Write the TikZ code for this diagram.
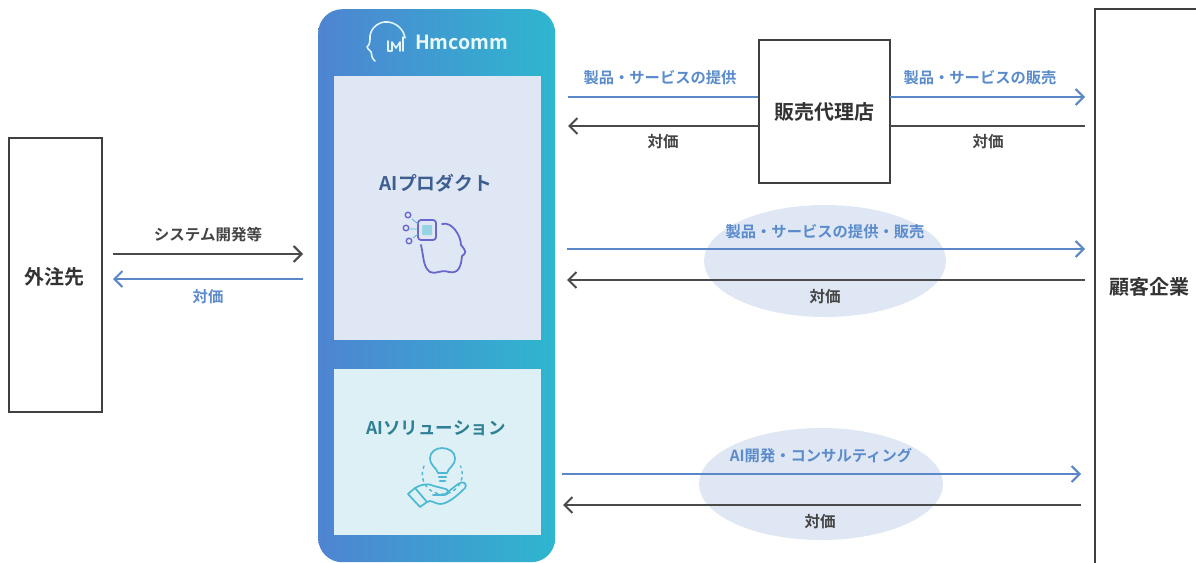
\documentclass[tikz,border=0pt]{standalone}
\usepackage{fontspec}
\setmainfont{Noto Sans CJK JP}[BoldFont={* Bold}]
\usetikzlibrary{arrows.meta,shadings,shapes.geometric}
\definecolor{arrblue}{HTML}{5B86C8}
\definecolor{arrdark}{HTML}{4A4A4A}
\definecolor{lblblue}{HTML}{5B8BCB}
\definecolor{lbldark}{HTML}{444444}
\definecolor{gradL}{HTML}{4F84D2}
\definecolor{gradR}{HTML}{2EB6CF}
\definecolor{prodfill}{HTML}{DFE7F5}
\definecolor{solfill}{HTML}{DCF0F5}
\definecolor{ellfill}{HTML}{DFE7F4}
\definecolor{prodtxt}{HTML}{3D5E8E}
\definecolor{soltxt}{HTML}{2F7F94}
\definecolor{iconv}{HTML}{6A66CC}
\definecolor{icont}{HTML}{4DB8D4}
\tikzset{
  x=1pt,y=-1pt,
  actor/.style={draw=black!75,line width=1.8pt,fill=white,minimum width=#1,inner sep=0pt},
  actortxt/.style={inner sep=0pt,font=\bfseries\fontsize{20}{20}\selectfont,text=black!80},
  inner box/.style={draw=none,inner sep=0pt},
  blob/.style={ellipse,fill=ellfill,draw=none,inner sep=0pt},
  flowb/.style={draw=arrblue,line width=2pt,-{Straight Barb[length=8pt,width=16pt,line width=2pt]}},
  flowd/.style={draw=arrdark,line width=2pt,-{Straight Barb[length=8pt,width=16pt,line width=2pt]}},
  lblb/.style={text=lblblue,font=\bfseries\fontsize{15.3}{15}\selectfont,inner sep=0pt},
  lbld/.style={text=lbldark,font=\bfseries\fontsize{15.5}{15}\selectfont,inner sep=0pt},
  head/.style={font=\bfseries\fontsize{#1}{18}\selectfont,inner sep=0pt},
  icon1/.style={draw=iconv,line width=1.8pt,line join=round,line cap=round},
  icon2/.style={draw=icont,line width=1.7pt,line join=round,line cap=round},
  logo/.style={draw=white!85!gradR,line width=1.6pt,line join=round,line cap=round},
}
\begin{document}
\begin{tikzpicture}
\useasboundingbox (0,0) rectangle (1196,562);
% main panel
\node[inner sep=0pt,minimum width=237pt,minimum height=553pt,rounded corners=24pt,left color=gradL,right color=gradR,anchor=north west] (main) at (318,9) {};
\node[inner box,fill=prodfill,minimum width=207pt,minimum height=264pt,anchor=north west] (prod) at (334,76) {};
\node[inner box,fill=solfill,minimum width=207pt,minimum height=166pt,anchor=north west] (sol) at (334,369) {};
\node[head=18.8,text=prodtxt] (prodt) at (436,183) {AIプロダクト};
\node[head=17.5,text=soltxt] (solt) at (436,428) {AIソリューション};
% logo
\node[text=white!90!gradR,font=\bfseries\fontsize{19.5}{18}\selectfont,inner sep=0pt,anchor=west] (logot) at (415,42) {Hmcomm};
\draw[logo] (375,61) .. controls (371,58) and (372,54) .. (371,52) .. controls (369,49) and (367,49) .. (367,47) .. controls (370,44) and (370,42) .. (370,36) .. controls (371,27) and (380,21) .. (388,22) .. controls (397,23) and (404,30) .. (405,38);
\draw[logo] (388,41) -- (388,51) -- (392,51) -- (392,42) -- (396,48) -- (400,42) -- (400,51) (403,37) -- (403,51);
% product icon
\draw[icon1] (442,224) .. controls (452,221) and (461,236) .. (461,245) .. controls (467,252) and (466,253) .. (462,256) .. controls (461,266) and (459,274) .. (449,272) .. controls (440,269) and (436,275) .. (430,272) .. controls (423,267) and (424,258) .. (421,245);
\draw[icon1,fill=prodfill,rounded corners=3pt] (418,220) rectangle (436,240);
\node[inner sep=0pt,minimum width=10pt,minimum height=10pt,fill=icont!60,rounded corners=1pt] (chip) at (427,230) {};
\draw[icon1,line width=1.4pt] (408,215) circle (2.8) (406,228) circle (2.8) (409,241) circle (2.8);
\draw[icont,line width=.8pt] (412,219) -- (418,224) (410,229) -- (418,229) (413,238) -- (418,234);
% solution icon
\draw[icon2] (438,473) .. controls (437,468) and (430,466) .. (430,458) .. controls (430,452) and (436,448) .. (442,448) .. controls (449,448) and (455,452) .. (455,458) .. controls (455,466) and (448,468) .. (447,473) -- cycle;
\draw[icon2,line width=2.4pt] (439,477) -- (446,477) (440,481) -- (445,481);
\draw[icon2,line width=1.4pt,dash pattern=on 2.5pt off 4pt] (424,466) arc[start angle=204,end angle=-24,radius=20];
\draw[icon2] (415,488) .. controls (422,484) and (428,483) .. (434,486) -- (446,489) .. controls (450,491) and (448,495) .. (444,495) -- (433,495) (444,495) -- (458,484) .. controls (463,480) and (468,484) .. (465,488) .. controls (456,497) and (447,504) .. (440,504) .. controls (435,504) and (431,499) .. (427,502);
\draw[icon2] (415,488) -- (408,494) -- (420,507) -- (427,502) -- cycle;
% actors
\node[actor=93pt,minimum height=274pt,anchor=north west] (out) at (8,137) {};
\node[actortxt] (outt) at (54,277) {外注先};
\node[actor=131pt,minimum height=143pt,anchor=north west] (dealer) at (758,39) {};
\node[actortxt] (dealert) at (824,112) {販売代理店};
\draw[black!75,line width=1.8pt] (1095,563) coordinate (custb) -- (1095,9) -- (1197,9);
\node[actortxt] (cust) at (1149,287) {顧客企業};
% ellipses
\node[blob,minimum width=242pt,minimum height=112pt] (e1) at (825,261) {};
\node[blob,minimum width=244pt,minimum height=112pt] (e2) at (821,484) {};
% endpoints
\coordinate (a1) at (113,254); \coordinate (a2) at (303,254);
\coordinate (b1) at (303,279); \coordinate (b2) at (113,279);
\coordinate (c1) at (568,97); \coordinate (d1) at (890,97); \coordinate (d2) at (1085,97);
\coordinate (c2) at (568,126); \coordinate (f1) at (1085,126); \coordinate (f2) at (890,126);
\coordinate (g1) at (567,249); \coordinate (g2) at (1085,249);
\coordinate (h1) at (1085,280); \coordinate (h2) at (567,280);
\coordinate (i1) at (562,474); \coordinate (i2) at (1081,474);
\coordinate (j1) at (1081,505); \coordinate (j2) at (563,505);
% connectors
\draw[flowd] (a1) -- (a2);
\draw[flowb] (b1) -- (b2);
\draw[arrblue,line width=2pt] (c1) -- (c1 -| dealer.west);
\draw[flowd] (c2 -| dealer.west) -- (c2);
\draw[flowb] (d1) -- (d2);
\draw[arrdark,line width=2pt] (f1) -- (f2);
\draw[flowb] (g1) -- (g2);
\draw[flowd] (h1) -- (h2);
\draw[flowb] (i1) -- (i2);
\draw[flowd] (j1) -- (j2);
% labels
\node[lbld] (l1) at (208,235) {システム開発等};
\node[lblb] (l2) at (208,297) {対価};
\node[lblb] (l3) at (660,78) {製品・サービスの提供};
\node[lbld] (l4) at (663,142) {対価};
\node[lblb] (l5) at (980,78) {製品・サービスの販売};
\node[lbld] (l6) at (988,142) {対価};
\node[lblb] (l7) at (825,232) {製品・サービスの提供・販売};
\node[lbld] (l8) at (825,297) {対価};
\node[lblb] (l9) at (821,456) {AI開発・コンサルティング};
\node[lbld] (l10) at (820,522) {対価};
\end{tikzpicture}
\end{document}
